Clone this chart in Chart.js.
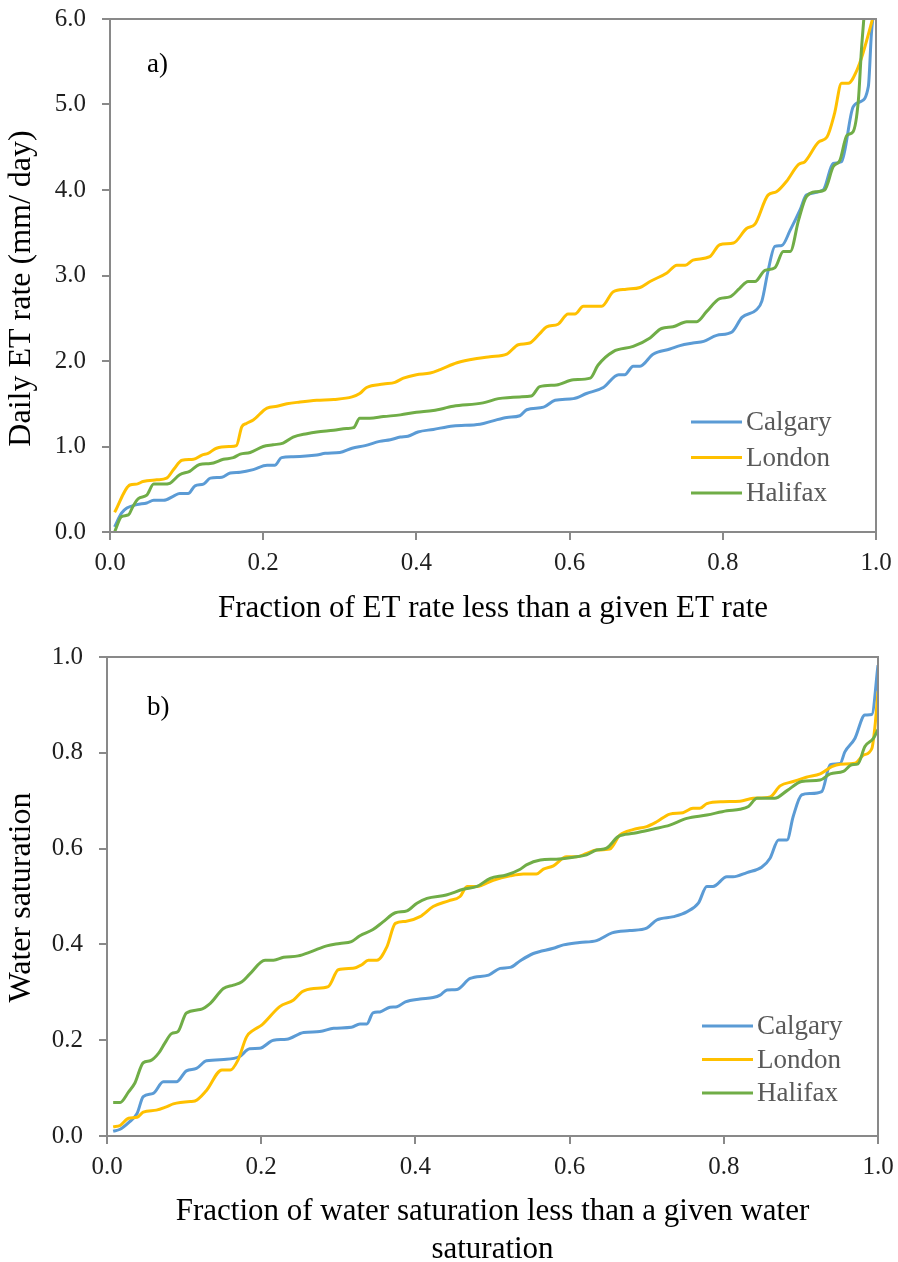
<!DOCTYPE html>
<html>
<head>
<meta charset="utf-8">
<script src="https://cdn.jsdelivr.net/npm/chart.js@4.4.1/dist/chart.umd.min.js"></script>
<style>
  body { margin: 0; background: #fff; }
  canvas { display: block; }
</style>
</head>
<body>
<canvas id="etChart" width="898" height="630"></canvas>
<canvas id="swChart" width="898" height="632"></canvas>
<script>
// Cumulative distributions per city (x = fraction below, y = value)
const cities = ['Calgary', 'London', 'Halifax'];
const cityColors = ['#5B9BD5', '#FFC000', '#70AD47'];

// a) daily ET rate (mm/day)
const calgaryEtX = [0.006,0.015,0.022,0.035,0.048,0.057,0.070,0.083,0.091,0.102,0.111,0.122,0.131,0.146,0.157,0.170,0.187,0.205,0.215,0.224,0.239,0.270,0.281,0.300,0.316,0.333,0.352,0.366,0.379,0.389,0.402,0.422,0.448,0.483,0.500,0.518,0.535,0.544,0.566,0.581,0.605,0.622,0.644,0.664,0.672,0.683,0.692,0.709,0.731,0.744,0.761,0.775,0.792,0.812,0.825,0.844,0.851,0.859,0.868,0.877,0.888,0.901,0.909,0.931,0.944,0.955,0.970,0.979,0.990,0.994,0.997];
const calgaryEtY = [0.06,0.22,0.28,0.32,0.34,0.37,0.37,0.42,0.45,0.45,0.54,0.56,0.63,0.64,0.69,0.70,0.73,0.78,0.78,0.87,0.88,0.90,0.92,0.93,0.98,1.01,1.06,1.08,1.11,1.12,1.17,1.20,1.24,1.26,1.30,1.34,1.36,1.43,1.46,1.54,1.56,1.62,1.69,1.84,1.84,1.94,1.94,2.08,2.14,2.18,2.21,2.23,2.30,2.34,2.51,2.60,2.70,3.05,3.34,3.35,3.53,3.77,3.94,4.00,4.31,4.33,4.97,5.03,5.21,5.83,6.10];
const londonEtX = [0.006,0.026,0.035,0.043,0.061,0.074,0.083,0.094,0.109,0.120,0.128,0.139,0.157,0.165,0.172,0.178,0.187,0.205,0.218,0.231,0.248,0.270,0.292,0.316,0.326,0.335,0.357,0.372,0.383,0.400,0.418,0.431,0.453,0.479,0.496,0.518,0.533,0.548,0.561,0.570,0.585,0.598,0.607,0.618,0.642,0.657,0.674,0.692,0.705,0.727,0.740,0.751,0.761,0.783,0.796,0.814,0.831,0.842,0.859,0.870,0.883,0.899,0.907,0.925,0.936,0.946,0.955,0.964,0.975,0.983,0.997];
const londonEtY = [0.23,0.55,0.56,0.59,0.61,0.63,0.73,0.84,0.85,0.90,0.92,0.98,1.00,1.01,1.23,1.27,1.31,1.45,1.47,1.50,1.52,1.54,1.55,1.58,1.62,1.69,1.73,1.75,1.80,1.84,1.86,1.90,1.98,2.03,2.05,2.08,2.19,2.21,2.32,2.40,2.43,2.55,2.55,2.64,2.64,2.81,2.84,2.86,2.93,3.03,3.12,3.12,3.18,3.22,3.36,3.38,3.55,3.60,3.94,3.98,4.10,4.30,4.33,4.56,4.62,4.90,5.25,5.25,5.40,5.60,6.05];
const halifaxEtX = [0.006,0.015,0.024,0.030,0.037,0.048,0.057,0.070,0.078,0.091,0.104,0.117,0.131,0.148,0.161,0.170,0.183,0.200,0.213,0.226,0.239,0.257,0.270,0.292,0.309,0.318,0.326,0.339,0.357,0.379,0.400,0.422,0.448,0.487,0.507,0.535,0.550,0.561,0.583,0.605,0.627,0.637,0.657,0.683,0.705,0.720,0.735,0.753,0.766,0.779,0.796,0.809,0.822,0.833,0.842,0.855,0.868,0.879,0.888,0.899,0.909,0.923,0.933,0.944,0.953,0.962,0.970,0.977,0.981,0.985];
const halifaxEtY = [0.00,0.18,0.20,0.30,0.39,0.43,0.56,0.56,0.57,0.67,0.71,0.79,0.80,0.85,0.87,0.91,0.93,1.00,1.02,1.04,1.11,1.15,1.17,1.19,1.21,1.22,1.33,1.33,1.35,1.37,1.40,1.42,1.47,1.51,1.56,1.58,1.59,1.70,1.72,1.78,1.80,1.95,2.11,2.17,2.27,2.38,2.40,2.46,2.46,2.58,2.73,2.75,2.85,2.93,2.93,3.06,3.09,3.28,3.28,3.65,3.92,3.98,4.00,4.27,4.35,4.64,4.68,5.05,5.64,6.10];

// b) water saturation
const calgarySwX = [0.008,0.017,0.028,0.039,0.047,0.060,0.073,0.090,0.103,0.116,0.129,0.155,0.172,0.185,0.198,0.216,0.233,0.255,0.276,0.294,0.317,0.328,0.337,0.345,0.354,0.367,0.376,0.387,0.406,0.423,0.432,0.441,0.454,0.471,0.495,0.510,0.523,0.536,0.553,0.579,0.592,0.613,0.635,0.655,0.678,0.700,0.713,0.735,0.752,0.767,0.778,0.786,0.804,0.812,0.830,0.849,0.860,0.871,0.882,0.890,0.901,0.912,0.927,0.938,0.951,0.957,0.970,0.983,0.992,1.000];
const calgarySwY = [0.010,0.014,0.028,0.047,0.082,0.089,0.113,0.113,0.136,0.141,0.157,0.160,0.166,0.182,0.183,0.200,0.202,0.216,0.218,0.225,0.227,0.234,0.234,0.257,0.259,0.269,0.270,0.280,0.286,0.289,0.294,0.305,0.306,0.329,0.336,0.350,0.352,0.366,0.381,0.392,0.399,0.404,0.408,0.424,0.429,0.434,0.451,0.458,0.468,0.486,0.521,0.521,0.541,0.541,0.550,0.561,0.580,0.618,0.618,0.667,0.712,0.715,0.719,0.775,0.778,0.802,0.830,0.879,0.880,0.983];
const londonSwX = [0.008,0.017,0.028,0.039,0.047,0.064,0.077,0.086,0.108,0.114,0.129,0.149,0.160,0.170,0.181,0.190,0.201,0.224,0.242,0.253,0.268,0.287,0.300,0.319,0.330,0.339,0.350,0.363,0.374,0.387,0.406,0.423,0.443,0.458,0.467,0.480,0.501,0.523,0.540,0.557,0.566,0.579,0.596,0.609,0.622,0.635,0.652,0.665,0.683,0.700,0.713,0.730,0.747,0.760,0.769,0.778,0.799,0.821,0.838,0.860,0.873,0.890,0.907,0.925,0.940,0.951,0.970,0.981,0.992,0.996,1.000];
const londonSwY = [0.019,0.022,0.037,0.039,0.050,0.054,0.061,0.067,0.072,0.073,0.095,0.138,0.138,0.159,0.207,0.221,0.232,0.270,0.284,0.301,0.308,0.312,0.347,0.350,0.357,0.367,0.367,0.395,0.444,0.448,0.458,0.479,0.491,0.500,0.521,0.521,0.534,0.543,0.547,0.547,0.557,0.564,0.583,0.583,0.590,0.597,0.599,0.628,0.640,0.646,0.656,0.672,0.675,0.684,0.684,0.694,0.698,0.699,0.705,0.708,0.731,0.740,0.749,0.756,0.771,0.776,0.778,0.795,0.809,0.854,0.928];
const halifaxSwX = [0.008,0.017,0.028,0.036,0.047,0.056,0.067,0.075,0.084,0.092,0.103,0.121,0.134,0.151,0.164,0.175,0.185,0.205,0.216,0.229,0.248,0.265,0.285,0.302,0.317,0.328,0.345,0.358,0.374,0.389,0.402,0.415,0.440,0.462,0.480,0.497,0.518,0.536,0.544,0.562,0.583,0.605,0.622,0.635,0.648,0.663,0.683,0.709,0.730,0.752,0.778,0.804,0.821,0.832,0.843,0.866,0.882,0.901,0.925,0.938,0.955,0.966,0.974,0.983,0.994,1.000];
const halifaxSwY = [0.070,0.070,0.092,0.110,0.153,0.157,0.173,0.194,0.214,0.218,0.257,0.264,0.277,0.308,0.315,0.322,0.338,0.367,0.367,0.373,0.376,0.385,0.397,0.402,0.406,0.418,0.431,0.447,0.466,0.470,0.486,0.496,0.503,0.515,0.521,0.538,0.545,0.557,0.566,0.576,0.578,0.582,0.587,0.597,0.601,0.625,0.632,0.641,0.649,0.663,0.670,0.679,0.682,0.688,0.705,0.705,0.721,0.740,0.743,0.756,0.761,0.775,0.777,0.813,0.830,0.849];

const fractionTicks = [0, 0.2, 0.4, 0.6, 0.8, 1.0];
const etTicks = [0, 1, 2, 3, 4, 5, 6];
const swTicks = [0, 0.2, 0.4, 0.6, 0.8, 1.0];

const axisGray = '#898989';
const serif = '"Liberation Serif", "Times New Roman", serif';

function zip(xs, ys) {
  return xs.map((x, i) => ({ x: x, y: ys[i] }));
}

function makeDatasets(series) {
  // last city is drawn on top
  return series.map((s, i) => ({
    label: cities[i],
    data: zip(s[0], s[1]),
    borderColor: cityColors[i],
    backgroundColor: cityColors[i],
    borderWidth: 3,
    pointRadius: 0,
    fill: false,
    cubicInterpolationMode: 'monotone',
    order: series.length - i
  }));
}

// frame, y title, panel letter and in-plot legend
const panelExtras = {
  id: 'panelExtras',
  afterDatasetsDraw(chart, args, opts) {
    const { ctx, chartArea: a } = chart;
    ctx.save();
    ctx.strokeStyle = axisGray;
    ctx.lineWidth = 2;
    ctx.strokeRect(a.left, a.top, a.right - a.left, a.bottom - a.top);

    ctx.save();
    ctx.translate(22, (a.top + a.bottom) / 2 + opts.yTitleShift);
    ctx.rotate(-Math.PI / 2);
    ctx.fillStyle = '#000';
    ctx.font = '32px ' + serif;
    ctx.textAlign = 'center';
    ctx.textBaseline = 'middle';
    ctx.fillText(opts.yTitle, 0, 0);
    ctx.restore();

    ctx.fillStyle = '#000';
    ctx.font = '27px ' + serif;
    ctx.textBaseline = 'middle';
    ctx.textAlign = 'left';
    ctx.fillText(opts.letter, a.left + opts.letterX, a.top + opts.letterY);

    chart.data.datasets.forEach((ds, i) => {
      const y = a.top + opts.legendY + i * opts.legendGap;
      const x0 = a.left + opts.legendX;
      ctx.strokeStyle = ds.borderColor;
      ctx.lineWidth = 3;
      ctx.beginPath();
      ctx.moveTo(x0, y);
      ctx.lineTo(x0 + 51, y);
      ctx.stroke();
      ctx.fillStyle = '#595959';
      ctx.fillText(ds.label, x0 + 55, y + 1);
    });
    ctx.restore();
  }
};

function makeChart(id, cfg) {
  return new Chart(document.getElementById(id), {
    type: 'line',
    data: { datasets: makeDatasets(cfg.series) },
    plugins: [panelExtras],
    options: {
      responsive: false,
      animation: false,
      layout: { padding: { top: cfg.top, right: cfg.right, left: 0, bottom: 0 } },
      plugins: {
        legend: { display: false },
        tooltip: { enabled: false },
        panelExtras: cfg.extras
      },
      scales: {
        x: {
          type: 'linear',
          min: 0,
          max: 1,
          afterBuildTicks: s => { s.ticks = fractionTicks.map(v => ({ value: v })); },
          afterFit: s => { s.height = cfg.xHeight; s.paddingLeft = 0; s.paddingRight = 0; },
          grid: { drawOnChartArea: false, drawTicks: true, tickLength: 8, color: axisGray, lineWidth: 2 },
          border: { display: false },
          ticks: {
            padding: cfg.xTickPad,
            color: '#1f1f1f',
            font: { family: serif, size: 25 },
            maxRotation: 0,
            callback: v => v.toFixed(1)
          },
          title: {
            display: true,
            text: cfg.xTitle,
            color: '#000',
            font: { family: serif, size: 31, lineHeight: 1.2 },
            padding: { top: 0, bottom: cfg.xTitlePad }
          }
        },
        y: {
          type: 'linear',
          min: cfg.yTicks[0],
          max: cfg.yTicks[cfg.yTicks.length - 1],
          afterBuildTicks: s => { s.ticks = cfg.yTicks.map(v => ({ value: v })); },
          afterFit: s => { s.width = cfg.yWidth; s.paddingTop = 0; s.paddingBottom = 0; },
          grid: { drawOnChartArea: false, drawTicks: true, tickLength: 8, color: axisGray, lineWidth: 2 },
          border: { display: false },
          ticks: {
            padding: 16,
            color: '#1f1f1f',
            font: { family: serif, size: 25 },
            callback: v => v.toFixed(1)
          },
          title: { display: false }
        }
      }
    }
  });
}

makeChart('etChart', {
  series: [[calgaryEtX, calgaryEtY], [londonEtX, londonEtY], [halifaxEtX, halifaxEtY]],
  yTicks: etTicks,
  top: 19, right: 22, yWidth: 110, xHeight: 98,
  xTickPad: 8, xTitlePad: 3,
  xTitle: 'Fraction of ET rate less than a given ET rate',
  extras: { yTitle: 'Daily ET rate (mm/ day)', yTitleShift: 13,
            letter: 'a)', letterX: 37, letterY: 46, legendX: 581, legendY: 403, legendGap: 35.5 }
});

makeChart('swChart', {
  series: [[calgarySwX, calgarySwY], [londonSwX, londonSwY], [halifaxSwX, halifaxSwY]],
  yTicks: swTicks,
  top: 27, right: 20, yWidth: 107, xHeight: 126,
  xTickPad: 8, xTitlePad: -6,
  xTitle: ['Fraction of water saturation less than a given water', 'saturation'],
  extras: { yTitle: 'Water saturation', yTitleShift: 1,
            letter: 'b)', letterX: 40, letterY: 51, legendX: 595, legendY: 369, legendGap: 33.5 }
});
</script>
</body>
</html>
